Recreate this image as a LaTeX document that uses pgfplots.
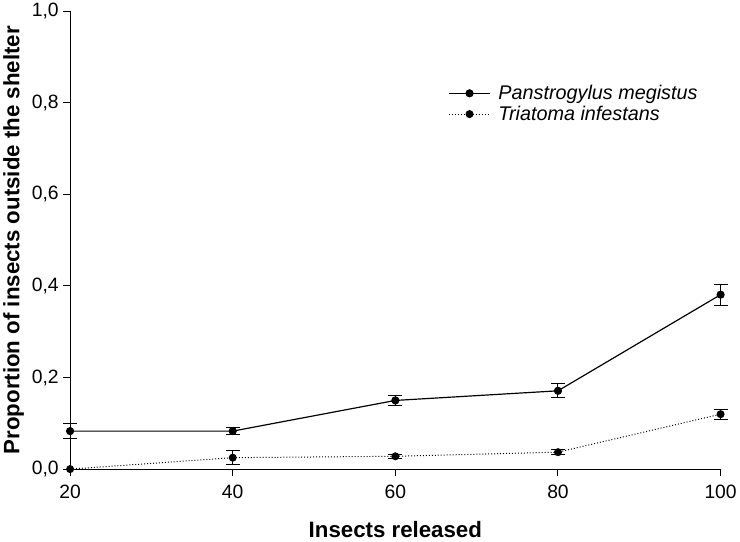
\documentclass[border=0pt]{standalone}
\usepackage{pgfplots}
\pgfplotsset{compat=1.18}
\usepackage{fontspec}
\setmainfont{Liberation Sans}
\begin{document}
\begin{tikzpicture}
\begin{axis}[
  scale only axis,
  width=655bp, height=461bp,
  xmin=20, xmax=100, ymin=0, ymax=1,
  axis x line=bottom, axis y line=left,
  axis line style={-, line width=1.1pt},
  tick align=outside,
  major tick length=7bp,
  tick style={line width=1pt, black},
  xtick={20,40,60,80,100},
  ytick={0,0.2,0.4,0.6,0.8,1.0},
  minor tick num=0,
  /pgf/number format/assume math mode=true,
  yticklabel style={xshift=-1bp, /pgf/number format/.cd, use comma, fixed, fixed zerofill, precision=1},
  ticklabel style={font=\fontsize{19.5}{23}\selectfont},
  xticklabel style={yshift=-6bp},
  xlabel={\textbf{Insects released}},
  ylabel={\textbf{Proportion of insects outside the shelter}},
  label style={font=\fontsize{22.5}{26}\selectfont},
  xlabel style={yshift=-16bp},
  ylabel style={yshift=1bp},
  legend image code/.code={
    \draw[mark repeat=2,mark phase=2,#1] plot coordinates {(0bp,0bp) (20.5bp,0bp) (41bp,0bp)};
  },
  legend style={draw=none, fill=none, at={(0.58,0.845)}, anchor=north west,
    font=\fontsize{20}{23}\selectfont\itshape, row sep=1bp, column sep=6bp, inner sep=1bp},
  legend cell align=left,
  clip=false,
]
\addplot+[black, line width=1.2pt, mark=*, mark size=3.5bp, mark options={solid, fill=black},
  error bars/.cd, y dir=both, y explicit,
  error bar style={line width=1pt, solid},
  error mark options={rotate=90, line width=1pt, mark size=7bp, solid}]
coordinates {
 (20,0.083) +- (0,0.016)
 (40,0.083) +- (0,0.008)
 (60,0.150) +- (0,0.010)
 (80,0.171) +- (0,0.015)
 (100,0.381) +- (0,0.023)
};
\addlegendentry{Panstrogylus megistus}
\addplot+[black, line width=1pt, dotted, mark=*, mark size=3.5bp, mark options={solid, fill=black},
  error bars/.cd, y dir=both, y explicit,
  error bar style={line width=1pt, solid},
  error mark options={rotate=90, line width=1pt, mark size=7bp, solid}]
coordinates {
 (20,0.0) +- (0,0.0)
 (40,0.025) +- (0,0.015)
 (60,0.028) +- (0,0.004)
 (80,0.037) +- (0,0.006)
 (100,0.120) +- (0,0.011)
};
\addlegendentry{Triatoma infestans}
\end{axis}
\end{tikzpicture}
\end{document}
